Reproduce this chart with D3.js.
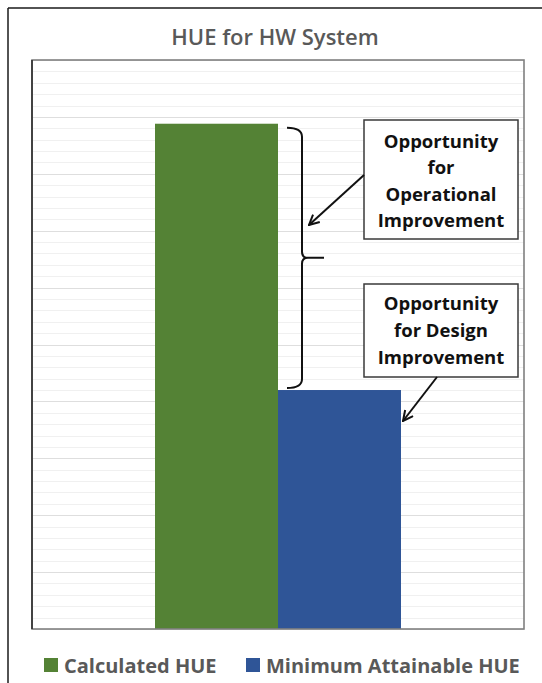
<!DOCTYPE html>
<html>
<head>
<meta charset="utf-8">
<script src="https://cdn.jsdelivr.net/npm/d3@7"></script>
<style>
  html, body { margin: 0; padding: 0; background: #ffffff; }
  svg { display: block; }
</style>
</head>
<body>
<svg id="chart" width="542" height="683"></svg>
<script>
// ---- data ----
const chartTitle = "HUE for HW System";
const categories = ["HW System"];
const seriesNames = ["Calculated HUE", "Minimum Attainable HUE"];
const seriesValues = [8.88, 4.2];
const seriesColors = ["#548235", "#2f5597"];
const majorTicks = [0, 1, 2, 3, 4, 5, 6, 7, 8, 9, 10];
const minorStep = 0.2;
const noteOperational = ["Opportunity", "for", "Operational", "Improvement"];
const noteDesign = ["Opportunity", "for Design", "Improvement"];

// ---- layout ----
const W = 542, H = 683;
const plot = { left: 32, top: 60, right: 524, bottom: 629 };
const svg = d3.select("#chart");

// outer frame (cropped on right/bottom)
svg.append("line").attr("x1", 8).attr("y1", 8).attr("x2", W).attr("y2", 8)
  .attr("stroke", "#1a1a1a").attr("stroke-width", 1.5);
svg.append("line").attr("x1", 8).attr("y1", 8).attr("x2", 8).attr("y2", H)
  .attr("stroke", "#1a1a1a").attr("stroke-width", 1.5);

// title
svg.append("text").attr("x", 275).attr("y", 45)
  .attr("text-anchor", "middle")
  .attr("font-family", "'Open Sans', sans-serif").attr("font-weight", 600)
  .attr("font-size", 22).attr("fill", "#595959")
  .text(chartTitle);

// scales
const y = d3.scaleLinear().domain([0, 10]).range([plot.bottom, plot.top]);
const x0 = d3.scaleBand().domain(categories).range([plot.left, plot.right])
  .paddingInner(0).paddingOuter(0.5);
const x1 = d3.scaleBand().domain(seriesNames).range([0, x0.bandwidth()]).padding(0);

// gridlines
const minorTicks = d3.range(0, 10 + 1e-9, minorStep).filter(v => Math.abs(v - Math.round(v)) > 1e-6);
svg.append("g").selectAll("line").data(minorTicks).join("line")
  .attr("x1", plot.left).attr("x2", plot.right)
  .attr("y1", d => Math.round(y(d)) + 0.5).attr("y2", d => Math.round(y(d)) + 0.5)
  .attr("stroke", "#f0f0f0").attr("stroke-width", 1);
svg.append("g").selectAll("line").data(majorTicks).join("line")
  .attr("x1", plot.left).attr("x2", plot.right)
  .attr("y1", d => Math.round(y(d)) + 0.5).attr("y2", d => Math.round(y(d)) + 0.5)
  .attr("stroke", "#dedede").attr("stroke-width", 1);

// bars
const grp = svg.append("g").selectAll("g").data(categories).join("g")
  .attr("transform", d => `translate(${x0(d)},0)`);
grp.selectAll("rect").data(seriesNames.map((n, i) => ({ n, v: seriesValues[i], c: seriesColors[i] })))
  .join("rect")
  .attr("x", d => x1(d.n)).attr("width", x1.bandwidth())
  .attr("y", d => y(d.v)).attr("height", d => y(0) - y(d.v))
  .attr("fill", d => d.c);

// plot border
svg.append("rect").attr("x", plot.left).attr("y", plot.top)
  .attr("width", plot.right - plot.left).attr("height", plot.bottom - plot.top)
  .attr("fill", "none").attr("stroke", "#808080").attr("stroke-width", 1.6);
svg.append("line").attr("x1", plot.left).attr("x2", plot.left)
  .attr("y1", plot.top).attr("y2", plot.bottom)
  .attr("stroke", "#262626").attr("stroke-width", 1.5);

// brace between the two bar tops
const bTop = y(seriesValues[0]) + 4, bBot = y(seriesValues[1]) - 2;
const bMid = (bTop + bBot) / 2;
const bx = x0(categories[0]) + x1.bandwidth() + 24; // vertical stroke
const bx0 = bx - 15, bTip = bx + 22;
svg.append("path")
  .attr("d", `M${bx0},${bTop} Q${bx},${bTop} ${bx},${bTop + 9} L${bx},${bMid - 6} Q${bx},${bMid} ${bx + 6},${bMid} L${bTip},${bMid}
              M${bx + 6},${bMid} Q${bx},${bMid} ${bx},${bMid + 6} L${bx},${bBot - 9} Q${bx},${bBot} ${bx0},${bBot}`)
  .attr("fill", "none").attr("stroke", "#111").attr("stroke-width", 2);

// arrow marker
const defs = svg.append("defs");
defs.append("marker").attr("id", "ah").attr("viewBox", "0 0 12 12")
  .attr("refX", 11).attr("refY", 6).attr("markerWidth", 12).attr("markerHeight", 12)
  .attr("markerUnits", "userSpaceOnUse").attr("orient", "auto")
  .append("path").attr("d", "M1,1 L11,6 L1,11").attr("fill", "none")
  .attr("stroke", "#111").attr("stroke-width", 2);

// annotation boxes
function noteBox(lines, bx1, by1, bw, bh, ty0, dy) {
  svg.append("rect").attr("x", bx1).attr("y", by1).attr("width", bw).attr("height", bh)
    .attr("fill", "#ffffff").attr("stroke", "#3a3a3a").attr("stroke-width", 1.5);
  svg.append("g").selectAll("text").data(lines).join("text")
    .attr("x", bx1 + bw / 2).attr("y", (d, i) => ty0 + i * dy)
    .attr("text-anchor", "middle").attr("dominant-baseline", "central")
    .attr("font-family", "'Open Sans', sans-serif").attr("font-weight", 700)
    .attr("font-size", 18.5).attr("fill", "#111")
    .text(d => d);
}
noteBox(noteOperational, 364, 120, 154, 119, 140, 26.5);
noteBox(noteDesign, 364, 284, 154, 93, 302, 27);

// arrows
svg.append("line").attr("x1", 364).attr("y1", 175).attr("x2", bx + 7).attr("y2", 225)
  .attr("stroke", "#111").attr("stroke-width", 2).attr("marker-end", "url(#ah)");
const blueRight = x0(categories[0]) + x1(seriesNames[1]) + x1.bandwidth();
svg.append("line").attr("x1", 437).attr("y1", 377).attr("x2", blueRight + 2).attr("y2", 421)
  .attr("stroke", "#111").attr("stroke-width", 2).attr("marker-end", "url(#ah)");

// legend
const legendX = [44, 246];
const lg = svg.append("g").selectAll("g").data(seriesNames).join("g")
  .attr("transform", (d, i) => `translate(${legendX[i]},665)`);
lg.append("rect").attr("x", 0).attr("y", -7).attr("width", 14).attr("height", 14)
  .attr("fill", (d, i) => seriesColors[i]);
lg.append("text").attr("x", 20).attr("y", 0).attr("dominant-baseline", "central")
  .attr("font-family", "'Open Sans', sans-serif").attr("font-weight", 700)
  .attr("font-size", 20).attr("fill", "#595959")
  .text(d => d);
</script>
</body>
</html>
